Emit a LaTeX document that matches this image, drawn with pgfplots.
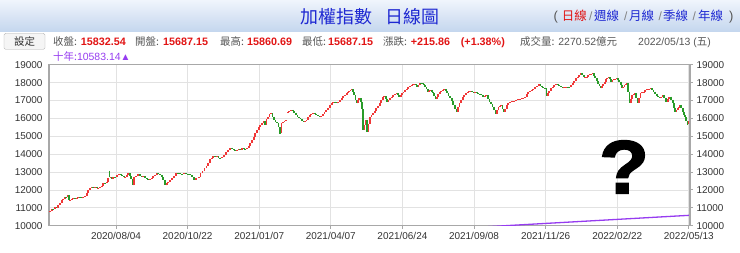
\documentclass[border=0pt]{standalone}
\usepackage{fontspec}
\setmainfont{Liberation Sans}
\newfontfamily\cjk{Noto Sans CJK TC}
\newfontfamily\qfont[BoldFeatures={FakeBold=2}]{Liberation Sans}
\usepackage{graphicx}
\usepackage{pgfplots}
\usepackage{pgfplotstable}
\pgfplotsset{compat=1.18}
\definecolor{upred}{RGB}{235,55,55}
\definecolor{dngreen}{RGB}{40,155,40}
\definecolor{numred}{RGB}{225,20,20}
\definecolor{lblgray}{RGB}{85,85,85}
\definecolor{ticktext}{RGB}{51,51,51}
\definecolor{titleblue}{RGB}{30,40,210}
\definecolor{mapurple}{RGB}{150,60,240}
\definecolor{gridgray}{RGB}{226,226,226}
\definecolor{axisgray}{RGB}{168,168,168}
\definecolor{hdrtop}{RGB}{240,245,252}
\definecolor{hdrbot}{RGB}{196,214,238}

% x = position along the date axis, o = open, c = close
\pgfplotstableread{
x o c
1 10750 10800
2.7 10800 10960
4.3 10960 10920
6 10920 11020
7.7 11020 11000
9.3 11000 11150
11 11150 11280
12.7 11280 11430
14.3 11430 11520
16 11520 11620
17.3 11620 11580
18.7 11580 11710
20 11710 11430
21.3 11430 11460
22.7 11460 11490
24.3 11490 11540
26 11540 11510
27.7 11510 11560
29.3 11560 11620
31 11620 11580
32.7 11580 11530
34.3 11530 11600
36 11600 11650
37.7 11650 11820
39.3 11820 12000
41 12000 12120
42.7 12120 12180
44.3 12180 12140
46 12140 12180
47.7 12180 12090
49.3 12090 12130
51 12130 12180
52.7 12180 12220
54.3 12220 12400
56 12400 12380
57.7 12380 12460
59.3 12460 12650
60.5 13080 12700
61.7 12700 12750
62.9 12750 12600
64.3 12600 12750
66 12750 12700
68 12700 12820
70 12820 12890
71.7 12890 12860
73.3 12860 12800
74.7 12800 12700
76 12700 12740
77.7 12740 12850
79.3 12850 12930
81 12930 12780
82.2 12780 12600
83.4 12600 12250
85.3 12250 12710
87.3 12710 12800
89.3 12800 12890
91 12890 12760
92.7 12760 12710
94.3 12710 12780
96 12780 12650
97.7 12650 12620
99.3 12620 12560
101 12560 12600
102.7 12600 12650
104.3 12650 12760
106 12760 12850
107.7 12850 12970
109.3 12970 12900
111 12900 12840
112.7 12840 12700
114.3 12700 12560
116 12560 12250
117.6 12250 12380
119.2 12380 12460
121 12460 12550
123 12550 12650
125 12650 12800
127 12800 12970
129 12970 12920
131 12920 12890
133 12890 12880
135 12880 12930
137 12930 12900
139 12900 12890
141 12890 12820
143 12820 12700
145 12700 12560
147.3 12560 12650
149.6 12650 12750
151.5 12750 12930
153.5 12930 13050
155.5 13050 13210
157.5 13210 13350
159.3 13350 13500
161 13500 13720
162.7 13720 13800
164.3 13800 13910
166 13910 13830
167.7 13830 13870
169.5 13870 13800
171.2 13800 13780
173 13780 13820
175 13820 13950
177 13950 14100
179 14100 14230
181 14230 14360
183 14360 14270
184.7 14270 14230
186.3 14230 14180
188 14180 14220
189.7 14220 14270
191.3 14270 14250
193 14250 14320
194.7 14320 14300
196.3 14300 14270
198 14270 14350
199.7 14350 14450
201.3 14450 14600
203 14600 14790
204.7 14790 14950
206.3 14950 15160
208 15160 15330
209.7 15330 15500
211.3 15500 15620
213 15620 15720
214.5 15720 15880
216 15880 15650
217.5 15650 15950
219 15950 16100
220.5 16100 16250
222 16250 16300
223.5 16300 16100
225 16100 15910
226.5 15910 15800
228 15800 15720
229.5 15720 15500
231 15500 15150
232.5 15200 15720
234 15720 15800
235.5 15800 15870
237 15870 15900
238.7 16300 16380
240.3 16380 16420
242 16420 16470
243.7 16470 16400
245.3 16400 16320
247 16320 16200
248.5 16200 16100
250 16100 16020
251.5 16020 15950
253 15950 15880
254.5 15880 15820
256 15820 15860
257.5 15860 15910
259 15910 16050
260.7 16050 16190
262.3 16190 16250
264 16250 16320
265.7 16320 16250
267.3 16250 16190
269 16190 16120
270.7 16120 16060
272.3 16060 16150
274 16150 16250
275.5 16250 16350
277 16350 16470
279 16470 16600
281 16600 16750
282.7 16750 16850
284.3 16850 16940
286 16940 16900
287.7 16900 16840
289.3 16840 16920
291 16920 17030
292.7 17030 17150
294.3 17150 17250
296 17250 17330
297.7 17330 17400
299 17400 17480
300.3 17480 17550
301.5 17550 17600
302.7 17600 17630
304 17630 17450
305.3 17450 17310
306.5 17310 17050
307.7 17050 16840
309 16840 17000
310.3 17000 17120
311.6 17120 16940
312.9 16940 16500
314.1 16500 15350
315.4 15350 15650
316.7 15650 15910
318 15910 15260
319.4 15260 15700
320.8 15700 16100
322.4 16100 16200
324 16200 16280
325.7 16280 16420
327.3 16420 16560
329 16560 16700
330.6 16700 16840
332.2 16840 17000
333.7 17000 17210
335.2 17210 17250
336.6 17250 17100
338 17100 16930
339.5 16930 17030
341 17030 17120
342.7 17120 17200
344.3 17200 17310
346 17310 17350
347.7 17350 17400
349 17400 17300
350.3 17300 17210
351.6 17210 17300
352.9 17300 17400
354.4 17400 17500
356 17500 17590
357.7 17590 17660
359.3 17660 17740
361 17740 17800
362.7 17800 17870
364 17870 17900
365.3 17900 17930
366.6 17930 17850
367.9 17850 17740
369.4 17740 17850
371 17850 17960
372.3 17960 17950
373.6 17950 17930
374.9 17930 17850
376.2 17850 17740
377.5 17740 17620
378.8 17620 17500
380 17500 17550
381.3 17550 17590
382.6 17590 17500
383.9 17500 17400
385.2 17400 17250
386.5 17250 17070
387.8 17070 17200
389.1 17200 17350
390.6 17350 17450
392.1 17450 17550
393.7 17550 17600
395.3 17600 17630
396.6 17630 17520
397.9 17520 17400
399.4 17400 17250
401 17250 17120
402.6 17120 16950
404.2 16950 16750
405.9 16750 16550
407.5 16550 16370
409 16370 16650
410.5 16650 16850
412 16850 17030
413.7 17030 17180
415.3 17180 17310
417 17310 17420
418.7 17420 17500
420.3 17500 17530
422 17530 17550
423.3 17550 17480
424.6 17480 17400
426.1 17400 17450
427.6 17450 17400
429.2 17400 17380
430.8 17380 17350
432.5 17350 17280
434.1 17280 17210
435.7 17210 17260
437.3 17260 17310
438.9 17310 17100
440.5 17100 16930
442 16930 16800
443.5 16800 16650
445 16650 16450
446.5 16450 16240
448 16240 16450
449.4 16450 16650
450.8 16650 16700
452.2 16700 16750
453.5 16750 16550
454.8 16550 16370
456.3 16370 16550
457.8 16550 16750
459.3 16750 16850
461 16850 16930
463 16930 16960
465 16960 16990
467 16990 17030
469 17030 17070
470.8 17070 17100
472.6 17100 17120
474.3 17120 17160
476 17160 17210
477.7 17210 17350
479.3 17350 17500
481 17500 17550
482.7 17550 17590
484.3 17590 17660
486 17660 17740
488 17740 17830
490 17830 17930
491.4 17930 17830
492.8 17830 17740
494.3 17740 17700
495.9 17700 17680
497.4 17680 17260
498.9 17260 17400
500.3 17400 17550
502 17550 17680
503.7 17680 17780
505.3 17780 17850
507 17850 17930
508.7 17930 17870
510.3 17870 17810
512 17810 17750
513.7 17750 17680
515.3 17680 17730
517 17730 17780
518.7 17780 17760
520.3 17760 17740
522 17740 17850
523.7 17850 17960
525.3 17960 18100
527 18100 18240
528.7 18240 18340
530.3 18340 18430
531.8 18430 18560
533.2 18560 18420
534.6 18420 18300
536.1 18300 18320
537.6 18320 18340
539.2 18340 18410
540.8 18410 18480
542.3 18480 18500
543.7 18500 18520
545 18520 18380
546.3 18380 18240
547.7 18240 18080
549.1 18080 17930
550.4 17930 17800
551.7 17800 17680
553 17680 17800
554.3 17800 17930
555.7 17930 18060
557 18060 18190
558.3 18190 18250
559.6 18250 18300
560.9 18300 18180
562.2 18180 18060
563.5 18060 18120
564.8 18120 18190
566.1 18190 18220
567.4 18220 18240
568.9 18240 18150
570.3 18150 18060
571.6 18060 17870
572.9 17870 17680
574.2 17680 17780
575.5 17780 17870
576.8 17870 17920
578.1 17920 17960
579.3 17960 17500
580.5 17500 16850
581.9 16850 17100
583.3 17100 17310
584.7 17310 17360
586 17360 17400
587.3 17400 17150
588.6 17150 16880
590 16880 17150
591.4 17150 17400
593 17400 17450
594.6 17450 17500
596.2 17500 17560
597.8 17560 17630
599.7 17630 17660
601.7 17660 17680
603 17680 17590
604.4 17590 17500
606 17500 17380
607.6 17380 17260
609 17260 17190
610.4 17190 17120
612 17120 17220
613.7 17220 17310
615.3 17310 17120
617 17120 16940
618.7 16940 17080
620.3 17080 17220
622 17220 17030
623.6 17030 16850
624.9 16850 16600
626.2 16600 16380
627.4 16380 16480
628.6 16480 16570
629.8 16570 16660
631 16660 16750
632.3 16750 16560
633.6 16560 16380
634.9 16380 16200
636.1 16200 16050
637.3 16050 15880
638.5 15880 15617
639.7 15687 15832
}\candles

\pgfplotstableread{
x ma
430 9918
500 10138
570 10359
641 10583
}\tenyear

\pgfplotsset{
  chartframe/.style={
    at={(49bp,26.3bp)}, anchor=south west,
    scale only axis, width=641bp, height=161bp,
    xmin=0, xmax=641, ymin=10000, ymax=19000,
    ytick={10000,11000,...,19000},
    scaled y ticks=false,
    tick align=outside, major tick length=3bp,
    tick label style={font=\fontsize{10}{12}\selectfont, text=ticktext},
    /pgf/number format/assume math mode=true,
    y tick label style={/pgf/number format/1000 sep={}},
  }
}

\begin{document}
\begin{tikzpicture}[x=1bp,y=1bp]
\useasboundingbox (0,0) rectangle (740,252);
\shade[top color=hdrtop, bottom color=hdrbot] (0,220.3) rectangle (740,252);

\begin{axis}[chartframe,
  xtick={67,138.6,210.2,281.8,353.4,425,496.6,568.2,639.8},
  xticklabels={2020/08/04,2020/10/22,2021/01/07,2021/04/07,2021/06/24,2021/09/08,2021/11/26,2022/02/22,2022/05/13},
  xtick pos=bottom, ytick pos=left,
  xtick style={axisgray, line width=1bp},
  ytick style={draw=none},
  grid=major, grid style={gridgray, line width=0.8bp},
  axis line style={axisgray, line width=1.5bp},
  colormap={updown}{rgb255=(40,155,40) rgb255=(240,55,55)},
  point meta min=-1, point meta max=1,
]
\addplot[mapurple, line width=1.3bp] table[x=x, y=ma] {\tenyear};
\addplot[
  point meta={\thisrow{c}-\thisrow{o}},
  quiver={u=0, v={\thisrow{c}-\thisrow{o}}, colored=mapped color,
          every arrow/.append style={line width=1.8bp}},
] table[x=x, y=o] {\candles};
\end{axis}

\begin{axis}[chartframe,
  axis x line=none, axis y line*=right,
  y axis line style={axisgray, line width=1.5bp, -},
  ytick style={axisgray, line width=1bp},
]
\addplot[draw=none] coordinates {(0,10000)};
\end{axis}

% question mark
\node[inner sep=0, anchor=center] at (624,85) {\qfont\fontsize{76}{80}\selectfont\bfseries\scalebox{1.08}[1]{?}};

% title bar
\node[inner sep=0, anchor=base west, text=titleblue] at (300,229) {\cjk\fontsize{18}{20}\selectfont 加權指數};
\node[inner sep=0, anchor=base west, text=titleblue] at (385,229) {\cjk\fontsize{18}{20}\selectfont 日線圖};
\begin{scope}[every node/.style={inner sep=0, anchor=base west}]
\node[text=lblgray] at (553.5,232) {\fontsize{13}{15}\selectfont (};
\node[text=numred] at (561.7,232) {\cjk\fontsize{12.5}{15}\selectfont 日線};
\node[text=gray] at (589,232) {\fontsize{12}{15}\selectfont /};
\node[text=titleblue] at (594,232) {\cjk\fontsize{12.5}{15}\selectfont 週線};
\node[text=gray] at (624,232) {\fontsize{12}{15}\selectfont /};
\node[text=titleblue] at (629,232) {\cjk\fontsize{12.5}{15}\selectfont 月線};
\node[text=gray] at (658.5,232) {\fontsize{12}{15}\selectfont /};
\node[text=titleblue] at (663,232) {\cjk\fontsize{12.5}{15}\selectfont 季線};
\node[text=gray] at (692.5,232) {\fontsize{12}{15}\selectfont /};
\node[text=titleblue] at (698,232) {\cjk\fontsize{12.5}{15}\selectfont 年線};
\node[text=lblgray] at (729,232) {\fontsize{13}{15}\selectfont )};

% second row
\node[text=lblgray] at (53,206.5) {\cjk\fontsize{10.5}{13}\selectfont 收盤:};
\node[text=numred] at (80.7,206.5) {\fontsize{10.8}{13}\selectfont\bfseries 15832.54};
\node[text=lblgray] at (135,206.5) {\cjk\fontsize{10.5}{13}\selectfont 開盤:};
\node[text=numred] at (163,206.5) {\fontsize{10.8}{13}\selectfont\bfseries 15687.15};
\node[text=lblgray] at (220,206.5) {\cjk\fontsize{10.5}{13}\selectfont 最高:};
\node[text=numred] at (247,206.5) {\fontsize{10.8}{13}\selectfont\bfseries 15860.69};
\node[text=lblgray] at (302,206.5) {\cjk\fontsize{10.5}{13}\selectfont 最低:};
\node[text=numred] at (328,206.5) {\fontsize{10.8}{13}\selectfont\bfseries 15687.15};
\node[text=lblgray] at (383,206.5) {\cjk\fontsize{10.5}{13}\selectfont 漲跌:};
\node[text=numred] at (410.7,206.5) {\fontsize{10.8}{13}\selectfont\bfseries +215.86};
\node[text=numred] at (460.7,206.5) {\fontsize{10.8}{13}\selectfont\bfseries (+1.38\%)};
\node[text=lblgray] at (520,206.5) {\fontsize{10.5}{13}\selectfont{\cjk 成交量:} 2270.52{\cjk 億元}};
\node[text=lblgray] at (638,206.5) {\fontsize{10.5}{13}\selectfont 2022/05/13 ({\cjk 五})};

% ten-year line label
\node[text=mapurple] at (53,191.3) {\fontsize{10.5}{13}\selectfont{\cjk 十年:}10583.14{\fontsize{10}{12}\selectfont ▲}};
\end{scope}

% settings button
\draw[gray!65, fill=gray!8, rounded corners=1.5bp] (4,202.7) rectangle (45,218.7);
\node[inner sep=0, text=black!80] at (24.5,210.7) {\cjk\fontsize{10.5}{12}\selectfont 設定};
\end{tikzpicture}
\end{document}
